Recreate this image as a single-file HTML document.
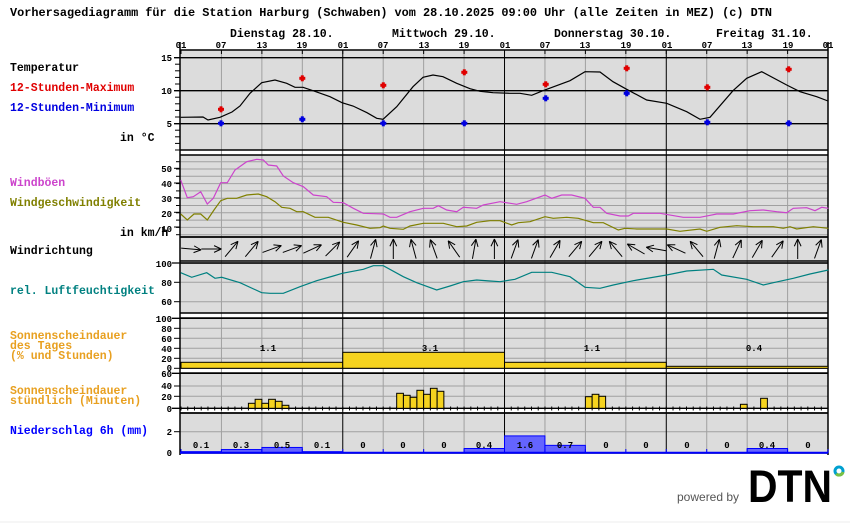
<!DOCTYPE html>
<html><head><meta charset="utf-8">
<style>
html,body{margin:0;padding:0;background:#fff;}
svg{display:block;}
text{font-family:"Liberation Mono",monospace;font-weight:bold;}
</style></head><body>
<svg id="s" width="850" height="524" viewBox="0 0 850 524" xmlns="http://www.w3.org/2000/svg">
<g id="bg"></g>
<g id="grid"></g>
<g id="data"></g>
<g font-size="11.5">
<text x="10" y="16" textLength="762" lengthAdjust="spacingAndGlyphs">Vorhersagediagramm für die Station Harburg (Schwaben) vom 28.10.2025 09:00 Uhr (alle Zeiten in MEZ)   (c) DTN</text>
<text x="230" y="37">Dienstag 28.10.</text>
<text x="392" y="37">Mittwoch 29.10.</text>
<text x="554" y="37">Donnerstag 30.10.</text>
<text x="716" y="37">Freitag 31.10.</text>
<text x="10" y="71">Temperatur</text>
<text x="10" y="91" fill="#e00000">12-Stunden-Maximum</text>
<text x="10" y="111" fill="#0000e0">12-Stunden-Minimum</text>
<text x="120" y="141">in °C</text>
<text x="10" y="186" fill="#cc44cc">Windböen</text>
<text x="10" y="206" fill="#808000">Windgeschwindigkeit</text>
<text x="120" y="236">in km/h</text>
<text x="10" y="254">Windrichtung</text>
<text x="10" y="294" fill="#008080">rel. Luftfeuchtigkeit</text>
<text x="10" y="339" fill="#e8a020">Sonnenscheindauer</text>
<text x="10" y="349" fill="#e8a020">des Tages</text>
<text x="10" y="359" fill="#e8a020">(% und Stunden)</text>
<text x="10" y="394" fill="#e8a020">Sonnenscheindauer</text>
<text x="10" y="404" fill="#e8a020">stündlich (Minuten)</text>
<text x="10" y="434" fill="#0000ff">Niederschlag 6h (mm)</text>
</g>
<g font-size="9" text-anchor="middle">
<text x="181" y="48">01</text><text x="221" y="48">07</text><text x="262" y="48">13</text><text x="302" y="48">19</text>
<text x="343" y="48">01</text><text x="383" y="48">07</text><text x="424" y="48">13</text><text x="464" y="48">19</text>
<text x="505" y="48">01</text><text x="545" y="48">07</text><text x="585" y="48">13</text><text x="626" y="48">19</text>
<text x="667" y="48">01</text><text x="707" y="48">07</text><text x="747" y="48">13</text><text x="788" y="48">19</text>
<text x="828" y="48">01</text>
</g>
<g font-size="9" text-anchor="end">
<text x="172" y="61">15</text><text x="172" y="94">10</text><text x="172" y="127">5</text>
<text x="172" y="172">50</text><text x="172" y="187">40</text><text x="172" y="202">30</text><text x="172" y="217">20</text><text x="172" y="232">10</text>
<text x="172" y="267">100</text><text x="172" y="286">80</text><text x="172" y="305">60</text>
<text x="172" y="322">100</text><text x="172" y="332">80</text><text x="172" y="342">60</text><text x="172" y="352">40</text><text x="172" y="362">20</text><text x="172" y="371">0</text>
<text x="172" y="377">60</text><text x="172" y="389">40</text><text x="172" y="400">20</text><text x="172" y="412">0</text>
<text x="172" y="435">2</text><text x="172" y="456">0</text>
</g>
<g font-size="9" text-anchor="middle" id="labels">
<text x="268" y="351">1.1</text><text x="430" y="351">3.1</text><text x="592" y="351">1.1</text><text x="754" y="351">0.4</text>
<text x="201" y="448">0.1</text><text x="241" y="448">0.3</text><text x="282" y="448">0.5</text><text x="322" y="448">0.1</text>
<text x="363" y="448">0</text><text x="403" y="448">0</text><text x="444" y="448">0</text><text x="484" y="448">0.4</text>
<text x="525" y="448">1.6</text><text x="565" y="448">0.7</text><text x="606" y="448">0</text><text x="646" y="448">0</text>
<text x="687" y="448">0</text><text x="727" y="448">0</text><text x="767" y="448">0.4</text><text x="808" y="448">0</text>
</g>
<g>
<text x="677" y="501" style="font-family:'Liberation Sans',sans-serif;font-weight:normal;font-size:12px;fill:#555">powered by</text>
<text x="748" y="502" style="font-family:'Liberation Sans',sans-serif;font-weight:bold;font-size:45px;fill:#000" textLength="84" lengthAdjust="spacingAndGlyphs">DTN</text>
<circle cx="839" cy="471" r="4" fill="none" stroke="#00a0d0" stroke-width="3"/>
<path d="M836.2 473.8 A4 4 0 0 0 843 472" fill="none" stroke="#7ac143" stroke-width="3"/>
<line x1="0" y1="522" x2="850" y2="522" stroke="#eee"/>
</g>
</svg>
<script>
var NS="http://www.w3.org/2000/svg";
function el(p,t,a){var e=document.createElementNS(NS,t);for(var k in a)e.setAttribute(k,a[k]);document.getElementById(p).appendChild(e);return e;}
function X(h){return 181+h*6.74;}
var L=180,R=828;
var panels=[[50,150],[155,237],[237,261],[263,313],[318,368],[373,413],[413,453]];
panels.forEach(function(p){el("bg","rect",{x:L,y:p[0],width:R-L,height:p[1]-p[0],fill:"#dcdcdc"});});
el("bg","rect",{x:L,y:408,width:R-L,height:5,fill:"#fff"});
function hl(y,c,w,x1,x2){el("grid","line",{x1:x1==null?L:x1,x2:x2==null?R:x2,y1:y,y2:y,stroke:c,"stroke-width":w||1});}
for(var y=161.7;y<237;y+=7.3)hl(y,"#a0a0a0");
hl(282.3,"#a0a0a0");hl(301.7,"#a0a0a0");
[328.3,338.3,348.3,358.3].forEach(function(y){hl(y,"#a0a0a0");});
hl(386,"#a0a0a0");hl(396.3,"#a0a0a0");
hl(431.7,"#a0a0a0");
for(var d=0;d<4;d++){[6,12,18].forEach(function(h){var x=X(d*24+h);el("grid","line",{x1:x,x2:x,y1:50,y2:453,stroke:"#a0a0a0"});});}
for(var d=1;d<4;d++){var x=X(d*24);el("grid","line",{x1:x,x2:x,y1:50,y2:453,stroke:"#000"});}
[57.7,90.7,123.7].forEach(function(y){hl(y,"#000",1.3,174);});
panels.forEach(function(p){hl(p[0],"#000",1.5);hl(p[1],"#000",1.5);});
hl(263,"#000",1.3,172);hl(318.3,"#000",1.3,172);hl(373.3,"#000",1.3,172);hl(408.3,"#000",1.3,172);
el("grid","line",{x1:L,x2:L,y1:42,y2:455,stroke:"#000","stroke-width":1.5});
el("grid","line",{x1:R,x2:R,y1:42,y2:455,stroke:"#000","stroke-width":1.5});
for(var t=0;t<=14;t++){var y=150-t*6.6;if(y>50)hl(y,"#000",1,175,180);}
[168.3,183,197.7,212.3,227].forEach(function(y){hl(y,"#000",1,174,180);});
for(var y=161.7;y<237;y+=7.3)hl(y,"#000",1,176,180);
[282.3,301.7].forEach(function(y){hl(y,"#000",1,174,180);});
[328.3,338.3,348.3,358.3,368.3].forEach(function(y){hl(y,"#000",1,174,180);});
[386,396.3].forEach(function(y){hl(y,"#000",1,174,180);});
hl(431.7,"#000",1,174,180);
for(var h=0;h<=96;h++){var x=X(h);el("grid","line",{x1:x,x2:x,y1:406.5,y2:410.5,stroke:"#000"});}
for(var h=0;h<=96;h+=6){var x=X(h);el("grid","line",{x1:x,x2:x,y1:50,y2:54,stroke:"#000"});}
function poly(pts,c,w){el("data","polyline",{points:pts,fill:"none",stroke:c,"stroke-width":w||1.2});}
poly("180.7,117.3 203,117 208,120 220,117.3 232,112 240,106 250,93.3 261.7,82.7 275,80 286.7,83.3 295,87.3 303,87.3 313,90.7 330,96.7 342,102.7 353,106 367,112.7 376.7,118.3 383,119.3 396.7,106.7 413,86.7 423,77.3 433,75 443,76.7 456.7,83.3 470,88.7 480,91.3 493,92.7 510,93.3 520,93.3 531.7,95.3 543,90.7 570,80.7 585,71.7 600,72 613,81.7 626.7,89.3 646.7,100 666.7,103.3 686.7,111.7 700,119.3 710,117.3 733,90.7 746.7,78.3 761.7,71.7 786.7,85 800,91.7 816.7,96.7 828,101","#000",1.2);
poly("180.7,180 187.3,197.7 193.3,196.7 200.7,191.7 207.3,204 213.3,198.3 220.7,182.7 227.3,182.7 235,170 246.7,161.7 256.7,159.3 263.3,160 268.3,165 276.7,166 283.3,176 293.3,182.7 303.3,186.7 313.3,195 326.7,196.7 333.3,202.3 343.3,202.7 353.3,208.3 363.3,213.3 383.3,214 390,217.3 396.7,217.3 410,211.7 423.3,208.3 433.3,208.3 438.3,205.7 446.7,210 456.7,211.7 463.3,207.3 476.7,208.3 483.3,205 495,202.7 500,201.7 516.7,204.3 526.7,201.7 545,195 551.7,198.3 561.7,195 571.7,195 585,198.3 593.3,207.3 600,207.3 606.7,213.3 620,216 628.3,216 633.3,213.3 660,213.3 683.3,217.3 700,217.3 708.3,215.7 716.7,214 733.3,214 750,210.7 763.3,210 776.7,211.7 786.7,212.7 793.3,208.3 806.7,207.7 815,210.7 821.7,207.3 828.3,208.3","#cc44cc");
poly("180.7,214 187.3,220 194,214 200.7,214 207.3,220 214,210 220.7,200.7 227.3,198.3 236.7,198.3 246.7,195 258.3,194 266.7,196.7 275,201.7 281.7,207.3 290,208.3 296.7,211.7 303.3,211.7 315,217.3 328.3,217.3 343.3,222.3 356.7,225 370,228.3 380,227.7 383.3,226 390,228.3 403.3,229.3 410,226 423.3,223.3 443.3,223.3 456.7,226.7 466.7,226 476.7,222.3 490,220.7 500,220.7 511.7,225 518.3,222.7 530,221.7 545,216.7 553.3,218.3 566.7,217.3 578.3,218.3 593.3,222.7 603.3,222.7 618.3,230 625,228.3 636.7,229 666.7,229 680,231.3 700,229 706.7,231.3 720,227.3 736.7,225.7 753.3,226.7 773.3,226.7 783.3,228.3 790,226.7 796.7,229 813.3,226.7 828.3,228.3","#808000");
poly("180.7,272.7 191.7,277.3 206.7,272.7 215,278.3 221.7,277.3 240,282.7 261.7,292.7 270,293.3 283.3,293.3 300,286.7 316.7,280.7 333.3,276 342.3,273.3 363.3,269.3 373.3,265.7 383.3,265.7 403.3,276.7 416.7,282.7 436.7,290 450,286 463.3,281.7 476.7,280 490,281 500,281.7 515,279.3 531.7,272.3 551.7,272.3 570,276.7 585,287.3 600,288.3 613.3,285 633.3,280.7 666.7,275 686.7,271 713.3,269.3 721.7,275 746.7,279.3 763.3,285 773.3,282.7 793.3,278.3 810,274 828.3,270","#008080");
function mk(x,y,c){el("data","rect",{x:x-1.5,y:y-3,width:3,height:6,fill:c});el("data","rect",{x:x-3,y:y-1.5,width:6,height:3,fill:c});}
[[221,109.3],[302.3,78.3],[383.3,85.3],[464.3,72.3],[545.7,84.3],[626.7,68.3],[707.3,87.3],[788.7,69.3]].forEach(function(p){mk(p[0],p[1],"#e00000");});
[[221,123.3],[302.3,119.3],[383.3,123.3],[464.3,123.3],[545.7,98.3],[626.7,93.3],[707.3,122.3],[788.7,123.3]].forEach(function(p){mk(p[0],p[1],"#0000e0");});
[362.3,352.3,362.3,366.3].forEach(function(t,d){el("data","rect",{x:X(d*24),y:t,width:161.75,height:368.3-t,fill:"#f5d31f",stroke:"#000","stroke-width":1});});
var hs=[[10,403.3],[11,399.3],[12,403.3],[13,399.3],[14,401.3],[15,405.3],[32,393.3],[33,395.3],[34,397.3],[35,390.3],[36,394.3],[37,388.3],[38,391.3],[60,396.7],[61,394.3],[62,396.3],[83,404.3],[86,398.3]];
hs.forEach(function(p){el("data","rect",{x:X(p[0]),y:p[1],width:6.74,height:408.3-p[1],fill:"#f5d31f",stroke:"#000","stroke-width":1});});
var pr=[0.1,0.3,0.5,0.1,0,0,0,0.4,1.6,0.7,0,0,0,0,0.4,0];
pr.forEach(function(v,i){if(v>0){var h=v*10.5;el("data","rect",{x:X(i*6),y:452.7-h,width:40.4,height:h,fill:"#6464ff",stroke:"#0000ff","stroke-width":1});}});
el("data","line",{x1:L,x2:R,y1:452.7,y2:452.7,stroke:"#0000ff","stroke-width":2});
for(var i=0;i<=16;i++){var x=X(i*6);el("data","line",{x1:x,x2:x,y1:449,y2:453,stroke:"#0000ff"});}
var dirs=[95,90,40,40,70,70,65,45, 35,15,0,-15,-20,-35,10,0, 20,20,30,40,40,-40,-60,-80, -65,-40,15,25,30,35,0,20];
dirs.forEach(function(a,i){var cx=X(i*3)+10.1,cy=249,r=a*Math.PI/180,len=20;
 var dx=Math.sin(r),dy=-Math.cos(r);
 var tx=cx-dx*len/2,ty=cy-dy*len/2,hx=cx+dx*len/2,hy=cy+dy*len/2;
 el("data","line",{x1:tx,y1:ty,x2:hx,y2:hy,stroke:"#000","stroke-width":1});
 [25,-25].forEach(function(o){var rr=r+Math.PI+o*Math.PI/180;el("data","line",{x1:hx,y1:hy,x2:hx+Math.sin(rr)*8,y2:hy-Math.cos(rr)*8,stroke:"#000","stroke-width":1});});
});
</script>
</body></html>
